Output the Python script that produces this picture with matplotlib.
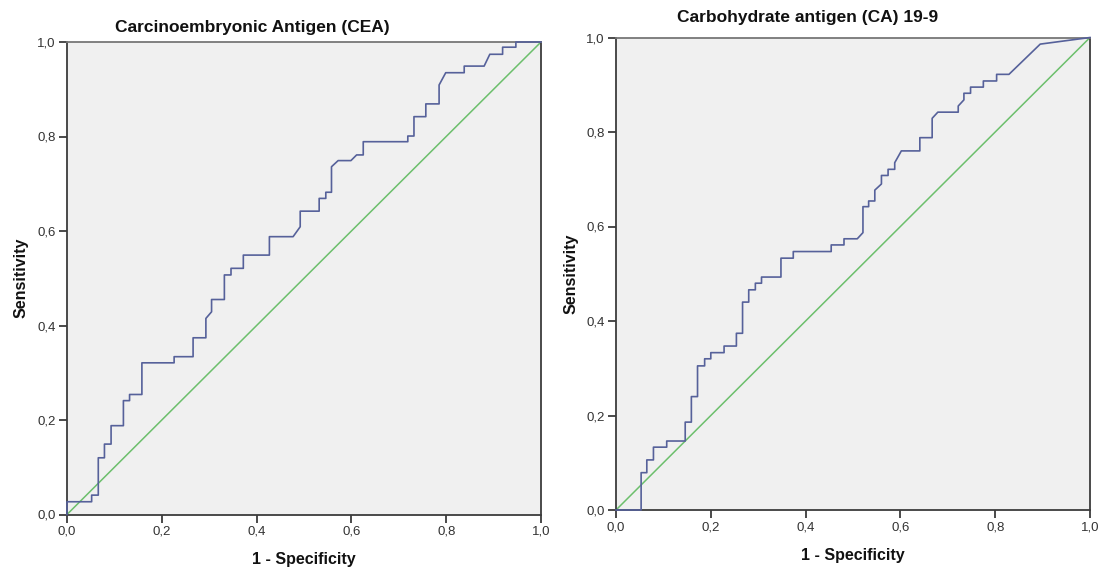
import matplotlib
matplotlib.use("Agg")
import matplotlib.pyplot as plt
from matplotlib.ticker import FuncFormatter
import numpy as np

plt.rcParams['font.family'] = ['Liberation Sans', 'DejaVu Sans']

# ROC vertices (1 - specificity, sensitivity)
cea_fpr = [0, 0, 0.052, 0.052, 0.066, 0.066, 0.079, 0.079, 0.093, 0.093,
           0.119, 0.119, 0.132, 0.132, 0.158, 0.158, 0.226, 0.226, 0.266, 0.266,
           0.293, 0.293, 0.305, 0.305, 0.332, 0.332, 0.346, 0.346, 0.372, 0.372,
           0.427, 0.427, 0.477, 0.492, 0.492, 0.532, 0.532, 0.546, 0.546, 0.558,
           0.558, 0.572, 0.599, 0.611, 0.625, 0.625, 0.719, 0.719, 0.732, 0.732,
           0.757, 0.757, 0.785, 0.785, 0.799, 0.838, 0.838, 0.880, 0.892, 0.919,
           0.919, 0.947, 0.947, 1.0]
cea_tpr = [0, 0.027, 0.027, 0.041, 0.041, 0.120, 0.120, 0.149, 0.149, 0.188,
           0.188, 0.241, 0.241, 0.254, 0.254, 0.321, 0.321, 0.334, 0.334, 0.374,
           0.374, 0.415, 0.429, 0.455, 0.455, 0.507, 0.507, 0.521, 0.521, 0.549,
           0.549, 0.588, 0.588, 0.609, 0.642, 0.642, 0.669, 0.669, 0.682, 0.682,
           0.736, 0.749, 0.749, 0.761, 0.761, 0.789, 0.789, 0.801, 0.801, 0.842,
           0.842, 0.869, 0.869, 0.909, 0.935, 0.935, 0.949, 0.949, 0.974, 0.974,
           0.989, 0.989, 1.0, 1.0]

ca_fpr = [0, 0.053, 0.053, 0.065, 0.065, 0.079, 0.079, 0.107, 0.107, 0.146,
          0.146, 0.159, 0.159, 0.172, 0.172, 0.187, 0.187, 0.200, 0.200, 0.228,
          0.228, 0.254, 0.254, 0.267, 0.267, 0.280, 0.280, 0.294, 0.294, 0.307,
          0.307, 0.348, 0.348, 0.374, 0.374, 0.454, 0.454, 0.481, 0.481, 0.509,
          0.521, 0.521, 0.533, 0.533, 0.546, 0.546, 0.560, 0.560, 0.574, 0.574,
          0.588, 0.588, 0.602, 0.641, 0.641, 0.667, 0.667, 0.679, 0.722, 0.722,
          0.734, 0.734, 0.748, 0.748, 0.775, 0.775, 0.803, 0.803, 0.829, 0.895,
          1.0]
ca_tpr = [0, 0, 0.079, 0.079, 0.106, 0.106, 0.133, 0.133, 0.146, 0.146,
          0.186, 0.186, 0.240, 0.240, 0.305, 0.305, 0.320, 0.320, 0.333, 0.333,
          0.347, 0.347, 0.374, 0.374, 0.440, 0.440, 0.466, 0.466, 0.480, 0.480,
          0.493, 0.493, 0.533, 0.533, 0.547, 0.547, 0.561, 0.561, 0.574, 0.574,
          0.587, 0.642, 0.642, 0.654, 0.654, 0.677, 0.690, 0.708, 0.708, 0.721,
          0.721, 0.735, 0.760, 0.760, 0.788, 0.788, 0.829, 0.842, 0.842, 0.855,
          0.868, 0.882, 0.882, 0.895, 0.895, 0.908, 0.908, 0.922, 0.922, 0.986,
          1.0]

titles = ["Carcinoembryonic Antigen (CEA)", "Carbohydrate antigen (CA) 19-9"]
ticks = [0, 0.2, 0.4, 0.6, 0.8, 1.0]

curve_color = "#56619a"
ref_color = "#6cbf6c"
spine_color = "#3c3c3c"

comma = FuncFormatter(lambda v, pos: f"{v:.1f}".replace(".", ","))


def draw_roc(ax, fpr, tpr, title, title_x, title_y, xlab_y, ylab_x):
    ax.set_facecolor("#f0f0f0")
    ax.plot([0, 1], [0, 1], color=ref_color, lw=1.1, zorder=2)
    ax.plot(fpr, tpr, color=curve_color, lw=1.2, zorder=3, clip_on=False)

    ax.set_xlim(0, 1)
    ax.set_ylim(0, 1)
    ax.set_xticks(ticks)
    ax.set_yticks(ticks)
    ax.xaxis.set_major_formatter(comma)
    ax.yaxis.set_major_formatter(comma)
    ax.tick_params(direction="out", length=6, width=1.3, color=spine_color,
                   labelsize=9.5, labelcolor="#333333", pad=2)
    for s in ax.spines.values():
        s.set_color(spine_color)
        s.set_linewidth(1.3)
    ax.spines["top"].set_color("#777777")

    ax.text(title_x, title_y, title, transform=ax.transAxes, ha="center",
            va="center", fontsize=12.5, fontweight="bold", color="#111111")
    ax.text(0.5, xlab_y, "1 - Specificity", transform=ax.transAxes,
            ha="center", va="center", fontsize=11.5, fontweight="bold",
            color="#111111")
    ax.text(ylab_x, 0.5, "Sensitivity", transform=ax.transAxes, rotation=90,
            ha="center", va="center", fontsize=11.5, fontweight="bold",
            color="#111111")


fig = plt.figure(figsize=(10.98, 5.70), dpi=100)
ax1 = fig.add_axes([67 / 1098, 55.5 / 570, 474 / 1098, 472.5 / 570])
ax2 = fig.add_axes([616 / 1098, 60 / 570, 474 / 1098, 472.5 / 570])

draw_roc(ax1, cea_fpr, cea_tpr, titles[0], 0.392, 1.03, -0.096, -0.096)
draw_roc(ax2, ca_fpr, ca_tpr, titles[1], 0.405, 1.042, -0.097, -0.095)

fig.savefig("out.png", dpi=100, facecolor="white")
